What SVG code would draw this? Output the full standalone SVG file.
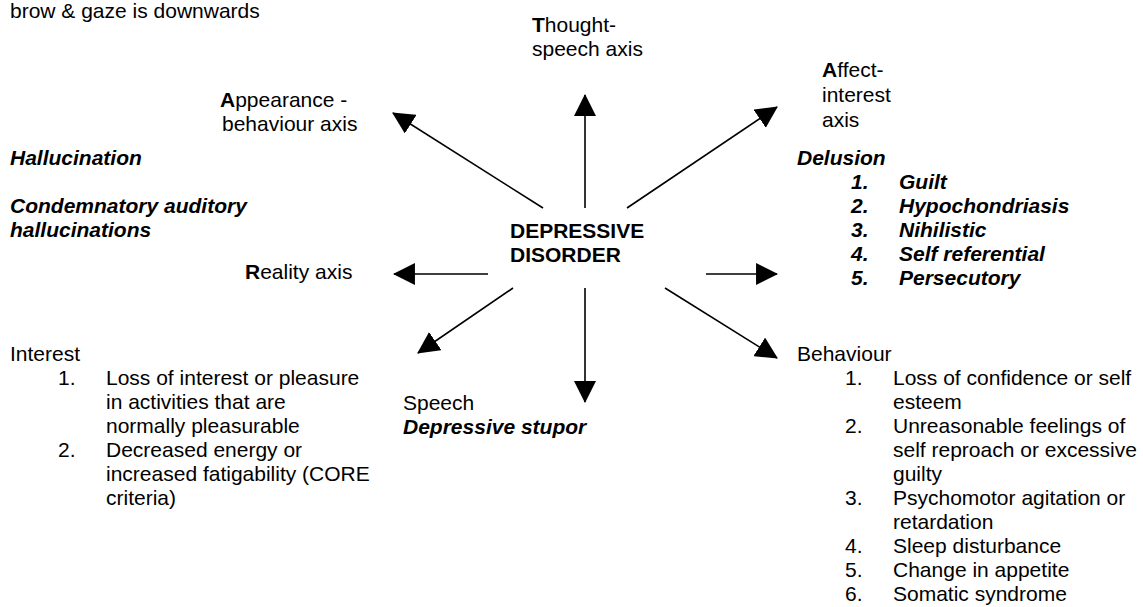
<svg xmlns="http://www.w3.org/2000/svg" width="1143" height="607" viewBox="0 0 1143 607">
  <style>
    text { font-family: "Liberation Sans", Arial, sans-serif; font-size: 21px; fill: #000; }
    .b { font-weight: bold; }
    .bi { font-weight: bold; font-style: italic; }
    .arrow { stroke: #000; stroke-width: 1.6; fill: none; marker-end: url(#head); }
  </style>
  <defs>
    <marker id="head" markerUnits="userSpaceOnUse" markerWidth="22" markerHeight="22" viewBox="0 0 21 21" refX="20" refY="10.5" orient="auto">
      <path d="M0,0 L21,10.5 L0,21 Z" fill="#000"/>
    </marker>
  </defs>

  <rect width="1143" height="607" fill="#fff"/>

  <!-- connectors radiating from the centre -->
  <g id="connectors">
    <line class="arrow" x1="585" y1="208" x2="585" y2="95"/>
    <line class="arrow" x1="543" y1="208" x2="393" y2="113"/>
    <line class="arrow" x1="627" y1="208" x2="777" y2="107"/>
    <line class="arrow" x1="488" y1="274" x2="394" y2="274"/>
    <line class="arrow" x1="706" y1="274" x2="777" y2="274"/>
    <line class="arrow" x1="513" y1="288" x2="418" y2="353"/>
    <line class="arrow" x1="585" y1="288" x2="585" y2="402"/>
    <line class="arrow" x1="665" y1="288" x2="777" y2="358"/>
  </g>

  <g id="note-top">
    <text x="10" y="18">brow &amp; gaze is downwards</text>
  </g>

  <g id="centre">
    <text class="b" x="510" y="238">DEPRESSIVE</text>
    <text class="b" x="510" y="262">DISORDER</text>
  </g>

  <g id="thought-axis">
    <text x="532" y="32"><tspan class="b">T</tspan>hought-</text>
    <text x="532" y="56">speech axis</text>
  </g>

  <g id="appearance-axis">
    <text x="220" y="107"><tspan class="b">A</tspan>ppearance -</text>
    <text x="222" y="131">behaviour axis</text>
  </g>

  <g id="affect-axis">
    <text x="822" y="77"><tspan class="b">A</tspan>ffect-</text>
    <text x="822" y="102">interest</text>
    <text x="822" y="127">axis</text>
  </g>

  <g id="reality-axis">
    <text x="245" y="279"><tspan class="b">R</tspan>eality axis</text>
  </g>

  <g id="hallucination">
    <text class="bi" x="10" y="165">Hallucination</text>
    <text class="bi" x="10" y="213">Condemnatory auditory</text>
    <text class="bi" x="10" y="237">hallucinations</text>
  </g>

  <g id="delusion">
    <text class="bi" x="797" y="165">Delusion</text>
    <text class="bi" x="851" y="189">1.</text><text class="bi" x="899" y="189">Guilt</text>
    <text class="bi" x="851" y="213">2.</text><text class="bi" x="899" y="213">Hypochondriasis</text>
    <text class="bi" x="851" y="237">3.</text><text class="bi" x="899" y="237">Nihilistic</text>
    <text class="bi" x="851" y="261">4.</text><text class="bi" x="899" y="261">Self referential</text>
    <text class="bi" x="851" y="285">5.</text><text class="bi" x="899" y="285">Persecutory</text>
  </g>

  <g id="speech">
    <text x="403" y="410">Speech</text>
    <text class="bi" x="403" y="434">Depressive stupor</text>
  </g>

  <g id="interest">
    <text x="10" y="361">Interest</text>
    <text x="58" y="385">1.</text><text x="106" y="385">Loss of interest or pleasure</text>
    <text x="106" y="409">in activities that are</text>
    <text x="106" y="433">normally pleasurable</text>
    <text x="58" y="457">2.</text><text x="106" y="457">Decreased energy or</text>
    <text x="106" y="481">increased fatigability (CORE</text>
    <text x="106" y="505">criteria)</text>
  </g>

  <g id="behaviour">
    <text x="797" y="361">Behaviour</text>
    <text x="845" y="385">1.</text><text x="893" y="385">Loss of confidence or self</text>
    <text x="893" y="409">esteem</text>
    <text x="845" y="433">2.</text><text x="893" y="433">Unreasonable feelings of</text>
    <text x="893" y="457">self reproach or excessive</text>
    <text x="893" y="481">guilty</text>
    <text x="845" y="505">3.</text><text x="893" y="505">Psychomotor agitation or</text>
    <text x="893" y="529">retardation</text>
    <text x="845" y="553">4.</text><text x="893" y="553">Sleep disturbance</text>
    <text x="845" y="577">5.</text><text x="893" y="577">Change in appetite</text>
    <text x="845" y="601">6.</text><text x="893" y="601">Somatic syndrome</text>
  </g>
</svg>
